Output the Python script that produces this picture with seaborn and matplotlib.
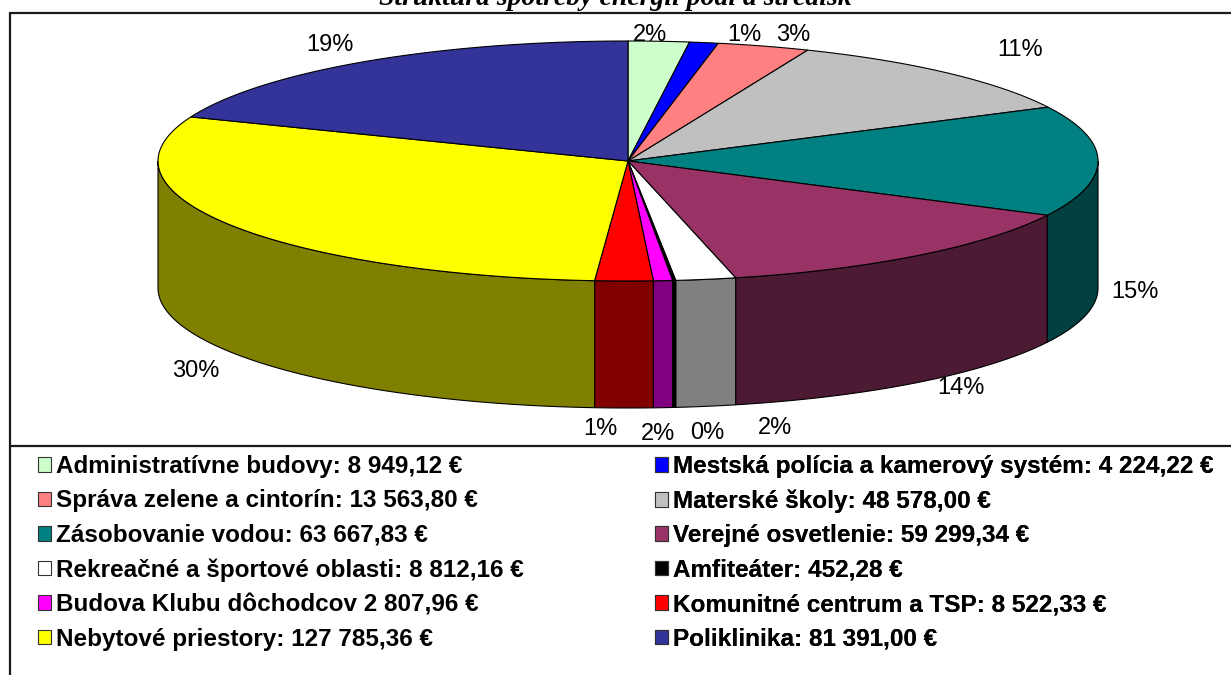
import numpy as np
import matplotlib
matplotlib.use("Agg")
import matplotlib.pyplot as plt
from matplotlib.patches import Polygon, Patch
import seaborn as sns

# data
categories = [
    "Administratívne budovy:",
    "Mestská polícia a kamerový systém:",
    "Správa zelene a cintorín:",
    "Materské školy:",
    "Zásobovanie vodou:",
    "Verejné osvetlenie:",
    "Rekreačné a športové oblasti:",
    "Amfiteáter:",
    "Budova Klubu dôchodcov",
    "Komunitné centrum a TSP:",
    "Nebytové priestory:",
    "Poliklinika:",
]
amounts = [8949.12, 4224.22, 13563.80, 48578.00, 63667.83, 59299.34,
           8812.16, 452.28, 2807.96, 8522.33, 127785.36, 81391.00]
colors = ["#CCFFCC", "#0000FF", "#FF8080", "#C0C0C0", "#008080", "#993366",
          "#FFFFFF", "#000000", "#FF00FF", "#FF0000", "#FFFF00", "#333399"]
title = "Štruktúra spotreby energií podľa stredísk"

sns.set_theme(style="white")
plt.rcParams['font.family'] = ['Liberation Sans', 'DejaVu Sans']
plt.rcParams['text.color'] = 'black'

W, H = 1231, 675
fig = plt.figure(figsize=(W / 100, H / 100), dpi=100)
ax = fig.add_axes([0, 0, 1, 1])
ax.set_xlim(0, W)
ax.set_ylim(H, 0)
ax.axis('off')

# pie geometry (pixels)
cx, cy, rx, ry, depth = 628, 161, 470, 120, 127

vals = np.array(amounts)
share = vals / vals.sum()
edges = 90 - 360 * np.concatenate([[0], np.cumsum(share)])


def arc(a0, a1, dz=0, n=80):
    t = np.radians(np.linspace(a0, a1, n))
    return np.column_stack([cx + rx * np.cos(t), cy - ry * np.sin(t) + dz])


def darker(c):
    r, g, b = matplotlib.colors.to_rgb(c)
    return (r * 0.5, g * 0.5, b * 0.5)


# side walls (front half only)
for i, c in enumerate(colors):
    hi = min(edges[i], 0)
    lo = max(edges[i + 1], -180)
    if lo < hi:
        top = arc(hi, lo)
        bot = arc(lo, hi, dz=depth)
        ax.add_patch(Polygon(np.vstack([top, bot]), closed=True, facecolor=darker(c),
                             edgecolor='black', lw=0.8, zorder=2))

# top surface
for i, c in enumerate(colors):
    pts = np.vstack([[cx, cy], arc(edges[i], edges[i + 1])])
    ax.add_patch(Polygon(pts, closed=True, facecolor=c, edgecolor='black',
                         lw=0.8, zorder=3))

# percent labels
nudges = [(-12, 12), (33, 10), (16, 6), (40, -10), (-10, 4), (13, -8),
          (61, 4), (28, 8), (-66, 3), (34, 8), (5, 9), (-7, -2)]
mids = (edges[:-1] + edges[1:]) / 2
for i, m in enumerate(mids):
    t = np.radians(m)
    x = cx + rx * np.cos(t) * 1.1
    y = cy - ry * np.sin(t) * 1.15
    if np.sin(t) < 0.05:
        y += depth
    dx, dy = nudges[i]
    ax.text(x + dx, y + dy, f"{share[i] * 100:.0f}%", ha='center', va='center',
            fontsize=17, color='black', zorder=5)

# frame
kw = dict(color='#1a1a1a', lw=1.6, zorder=6)
ax.plot([10, W], [13, 13], **kw)
ax.plot([10, 10], [13, H], **kw)
ax.plot([10, W], [446, 446], **kw)

ax.text(615, 5, title, ha='center', va='baseline', fontsize=20, fontweight='bold',
        style='italic', family=['Liberation Serif'], zorder=7)


def fmt(v):
    return f"{v:,.2f}".replace(',', ' ').replace('.', ',')


labels = [f"{n} {fmt(v)} €" for n, v in zip(categories, amounts)]
handles = [Patch(facecolor=c, edgecolor='#333333', lw=0.8) for c in colors]

for col, x0 in enumerate([38, 655]):
    idx = list(range(col, len(labels), 2))
    leg = ax.legend([handles[i] for i in idx], [labels[i] for i in idx],
                    loc='upper left', bbox_to_anchor=(x0, 455), bbox_transform=ax.transData,
                    frameon=False, borderpad=0, borderaxespad=0, handlelength=0.55,
                    handleheight=0.55, handletextpad=0.2, labelspacing=0.47,
                    prop=dict(size=17.5, weight='bold'))
    for t in leg.get_texts():
        t.set_color('black')
    ax.add_artist(leg)

fig.savefig("out.png", dpi=100)
